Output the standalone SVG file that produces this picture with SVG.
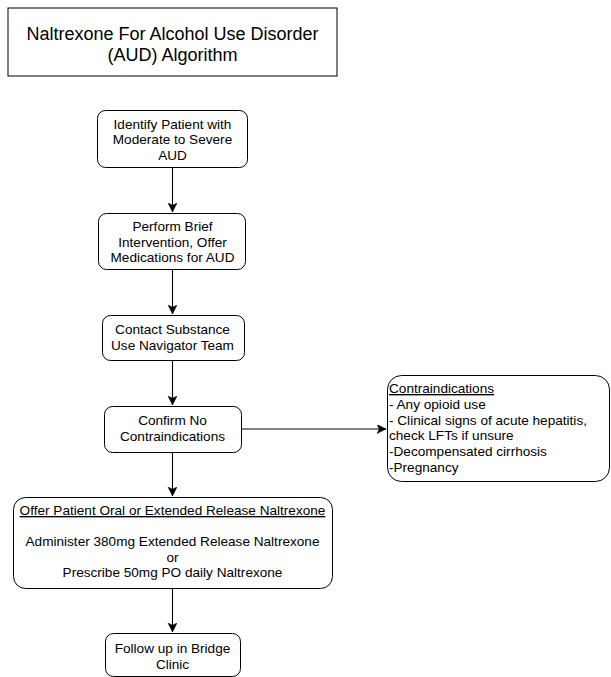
<svg xmlns="http://www.w3.org/2000/svg" width="611" height="677" viewBox="0 0 611 677">
<style>
.box{fill:#fff;stroke:#000;stroke-width:1}
.t{font-family:"Liberation Sans",Arial,sans-serif;font-size:13.6px;fill:#000}
.c{text-anchor:middle}
.edge{stroke:#000;stroke-width:1.1;fill:none}
</style>
<defs>
<marker id="arr" markerWidth="12" markerHeight="12" refX="9" refY="4.5" orient="auto" markerUnits="userSpaceOnUse">
<path d="M0,0 L9,4.5 L0,9 L2.3,4.5 Z" fill="#000" stroke="#000" stroke-width="0.5"/>
</marker>
</defs>
<rect width="611" height="677" fill="#fff"/>
<g id="title">
<rect class="box" x="8" y="8" width="329" height="68"/>
<text class="t c" x="172.5" y="39.5" style="font-size:18px">Naltrexone For Alcohol Use Disorder</text>
<text class="t c" x="172.5" y="60.5" style="font-size:18px">(AUD) Algorithm</text>
</g>
<g id="connectors">
<path class="edge" d="M172.5,167 V212" marker-end="url(#arr)"/>
<path class="edge" d="M172.5,269 V314" marker-end="url(#arr)"/>
<path class="edge" d="M172.5,360 V405" marker-end="url(#arr)"/>
<path class="edge" d="M172.5,452 V496" marker-end="url(#arr)"/>
<path class="edge" d="M172.5,588 V632" marker-end="url(#arr)"/>
<path class="edge" d="M241,429 H386" marker-end="url(#arr)"/>
</g>
<g id="identify">
<rect class="box" x="97.5" y="110.5" width="150" height="57" rx="8"/>
<text class="t c" x="172.5" y="128.5">Identify Patient with</text>
<text class="t c" x="172.5" y="144">Moderate to Severe</text>
<text class="t c" x="172.5" y="159.5">AUD</text>
</g>
<g id="perform">
<rect class="box" x="98.5" y="213.5" width="147" height="56" rx="8"/>
<text class="t c" x="172.5" y="231">Perform Brief</text>
<text class="t c" x="172.5" y="246.5">Intervention, Offer</text>
<text class="t c" x="172.5" y="262">Medications for AUD</text>
</g>
<g id="contact">
<rect class="box" x="102.5" y="315.5" width="142" height="45" rx="8"/>
<text class="t c" x="172.5" y="334">Contact Substance</text>
<text class="t c" x="172.5" y="349.5">Use Navigator Team</text>
</g>
<g id="confirm">
<rect class="box" x="104.5" y="406.5" width="137" height="46" rx="8"/>
<text class="t c" x="172.5" y="425">Confirm No</text>
<text class="t c" x="172.5" y="440.5">Contraindications</text>
</g>
<g id="contraindications">
<rect class="box" x="387.5" y="375.5" width="222" height="106" rx="14"/>
<text class="t" x="389" y="393" text-decoration="underline">Contraindications</text>
<text class="t" x="389" y="408.8">- Any opioid use</text>
<text class="t" x="389" y="424.6">- Clinical signs of acute hepatitis,</text>
<text class="t" x="389" y="440.4">check LFTs if unsure</text>
<text class="t" x="389" y="456.2">-Decompensated cirrhosis</text>
<text class="t" x="389" y="472">-Pregnancy</text>
</g>
<g id="offer">
<rect class="box" x="13.5" y="497.5" width="319" height="91" rx="12"/>
<text class="t c" x="172.5" y="515" text-decoration="underline">Offer Patient Oral or Extended Release Naltrexone</text>
<text class="t c" x="172.5" y="546">Administer 380mg Extended Release Naltrexone</text>
<text class="t c" x="172.5" y="561.5">or</text>
<text class="t c" x="172.5" y="577">Prescribe 50mg PO daily Naltrexone</text>
</g>
<g id="followup">
<rect class="box" x="105.5" y="633.5" width="135" height="43" rx="8"/>
<text class="t c" x="172.5" y="653">Follow up in Bridge</text>
<text class="t c" x="172.5" y="668.5">Clinic</text>
</g>
</svg>
